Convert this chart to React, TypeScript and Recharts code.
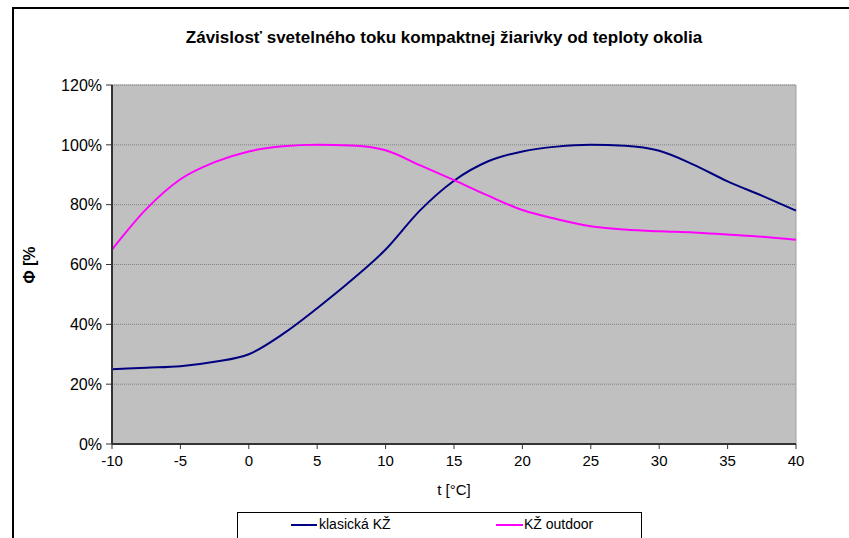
import { LineChart, Line, XAxis, YAxis, CartesianGrid, ReferenceLine } from "recharts";

const temps = [-10, -7.5, -5, -2.5, 0, 2.5, 5, 7.5, 10, 12.5, 15, 17.5, 20, 22.5, 25, 27.5, 30, 32.5, 35, 37.5, 40];
const klasicka = [25, 25.5, 26, 27.5, 30, 36.8, 45.4, 54.7, 65, 78, 88, 94.5, 97.8, 99.4, 100, 99.7, 98, 93.4, 87.8, 83, 78];
const outdoor = [65, 78.5, 88.5, 94.2, 97.8, 99.5, 100, 99.8, 98.2, 93.2, 88.2, 83, 78.2, 75.2, 72.8, 71.7, 71.1, 70.7, 70, 69.3, 68.3];
const xTicks = [-10, -5, 0, 5, 10, 15, 20, 25, 30, 35, 40];
const yTicks = [0, 20, 40, 60, 80, 100, 120];

const data = temps.map((t, i) => ({ t, klasicka: klasicka[i], outdoor: outdoor[i] }));

const font = "Arial, 'Liberation Sans', sans-serif";

export default function App() {
  return (
    <div style={{ position: "absolute", left: 0, top: 0, width: 849, height: 538, overflow: "hidden", background: "#fff", fontFamily: font }}>
      <div style={{ position: "absolute", left: 12, top: 7, width: 900, height: 600, borderLeft: "2px solid #000", borderTop: "2px solid #000" }} />
      <div style={{ position: "absolute", left: 0, top: 28, width: 888, textAlign: "center", fontSize: 17, fontWeight: "bold", color: "#000" }}>
        Závislosť svetelného toku kompaktnej žiarivky od teploty okolia
      </div>
      <div
        style={{
          position: "absolute",
          left: 0,
          top: 255,
          width: 60,
          height: 20,
          lineHeight: "20px",
          textAlign: "center",
          transform: "rotate(-90deg)",
          fontSize: 16,
          fontWeight: "bold",
        }}
      >
        Φ [%
      </div>
      <div style={{ position: "absolute", left: 112, width: 684, top: 481, textAlign: "center", fontSize: 15 }}>t [°C]</div>
      <LineChart
        width={849}
        height={538}
        data={data}
        margin={{ left: 52, right: 53, top: 85, bottom: 64 }}
        style={{ position: "absolute", left: 0, top: 0 }}
      >
        <CartesianGrid
          horizontal
          vertical={false}
          fill="#C0C0C0"
          fillOpacity={1}
          stroke="#808080"
          strokeDasharray="1 1"
        />
        <XAxis
          dataKey="t"
          type="number"
          domain={[-10, 40]}
          ticks={xTicks}
          interval={0}
          height={30}
          tick={{ fill: "#000", fontSize: 15, fontFamily: font }}
          axisLine={{ stroke: "#333", strokeWidth: 2 }}
          tickLine={{ stroke: "#333" }}
          tickSize={5}
          tickMargin={6}
        />
        <YAxis
          type="number"
          domain={[0, 120]}
          ticks={yTicks}
          interval={0}
          width={60}
          tickFormatter={(v: number) => `${v}%`}
          tick={{ fill: "#000", fontSize: 16, fontFamily: font }}
          axisLine={{ stroke: "#333", strokeWidth: 2 }}
          tickLine={{ stroke: "#333" }}
          tickSize={6}
          tickMargin={4}
        />
        <ReferenceLine y={120} stroke="#a0a0a0" strokeWidth={1} />
        <ReferenceLine x={40} stroke="#a0a0a0" strokeWidth={1} />
        <Line type="monotone" dataKey="klasicka" stroke="#000080" strokeWidth={2} dot={false} isAnimationActive={false} />
        <Line type="monotone" dataKey="outdoor" stroke="#FF00FF" strokeWidth={2} dot={false} isAnimationActive={false} />
      </LineChart>
      <div style={{ position: "absolute", left: 237, top: 512, width: 403, height: 30, border: "1px solid #000", background: "#fff", fontSize: 14 }}>
        <div style={{ position: "absolute", left: 53, top: 11, width: 26, height: 2, background: "#000080" }} />
        <div style={{ position: "absolute", left: 81, top: 3 }}>klasická KŽ</div>
        <div style={{ position: "absolute", left: 258, top: 11, width: 27, height: 2, background: "#FF00FF" }} />
        <div style={{ position: "absolute", left: 286, top: 3 }}>KŽ outdoor</div>
      </div>
    </div>
  );
}
